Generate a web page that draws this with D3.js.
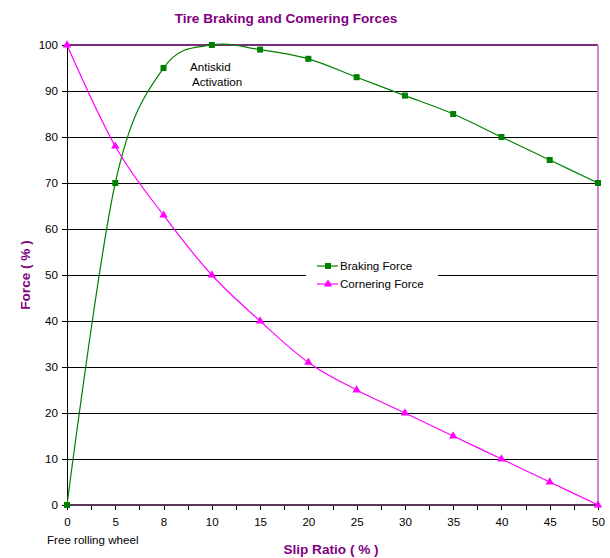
<!DOCTYPE html>
<html>
<head>
<meta charset="utf-8">
<script src="https://cdn.jsdelivr.net/npm/d3@7"></script>
<style>
  body { margin: 0; background: #fff; }
  text { font-family: "Liberation Sans", Arial, sans-serif; }
</style>
</head>
<body>
<svg id="chart" width="610" height="558"></svg>
<script>
const categories = ["0", "5", "8", "10", "15", "20", "25", "30", "35", "40", "45", "50"];
const brakingForce = [0, 70, 95, 100, 99, 97, 93, 89, 85, 80, 75, 70];
const corneringForce = [100, 78, 63, 50, 40, 31, 25, 20, 15, 10, 5, 0];
const yTicks = [0, 10, 20, 30, 40, 50, 60, 70, 80, 90, 100];

(function () {
const svg = d3.select("#chart");
const pL = 67, pR = 598, pT = 45, pB = 505;
const FS = 11.6;

const x = d3.scalePoint().domain(categories).range([pL, pR]);
const y = d3.scaleLinear().domain([0, 100]).range([pB, pT]);

// gridlines
svg.append("g").attr("shape-rendering", "crispEdges")
  .selectAll("line").data(yTicks.filter(d => d > 0 && d < 100)).join("line")
  .attr("x1", pL).attr("x2", pR)
  .attr("y1", d => y(d) + 0.5).attr("y2", d => y(d) + 0.5)
  .attr("stroke", "#000").attr("stroke-width", 1);

// y axis
const yAxis = d3.axisLeft(y).tickValues(yTicks).tickSize(5).tickPadding(4);
const ya = svg.append("g").attr("transform", `translate(${pL},0)`).attr("shape-rendering", "crispEdges").call(yAxis);
ya.select(".domain").attr("stroke", "#000");
ya.selectAll(".tick line").attr("stroke", "#000");
ya.selectAll(".tick text").attr("font-size", FS).attr("fill", "#000")
  .attr("font-family", "Liberation Sans, Arial, sans-serif");

// x-axis ticks at half intervals
const step = x.step();
const halfTicks = d3.range(0, categories.length * 2 - 1).map(i => pL + i * step / 2);
svg.append("g").attr("shape-rendering", "crispEdges")
  .selectAll("line").data(halfTicks).join("line")
  .attr("x1", d => Math.round(d) + 0.5).attr("x2", d => Math.round(d) + 0.5)
  .attr("y1", pB).attr("y2", pB + 5)
  .attr("stroke", "#000");

const xAxis = d3.axisBottom(x).tickSize(0).tickPadding(13);
const xa = svg.append("g").attr("transform", `translate(0,${pB})`).call(xAxis);
xa.select(".domain").remove();
xa.selectAll(".tick text").attr("font-size", FS).attr("fill", "#000")
  .attr("font-family", "Liberation Sans, Arial, sans-serif");

// borders
const bd = svg.append("g").attr("shape-rendering", "crispEdges");
bd.append("line").attr("x1", pL).attr("x2", pR).attr("y1", pT).attr("y2", pT)
  .attr("stroke", "#7a2a7a").attr("stroke-width", 2);
bd.append("line").attr("x1", pR).attr("x2", pR).attr("y1", pT).attr("y2", pB)
  .attr("stroke", "#cc88cc").attr("stroke-width", 2);
bd.append("line").attr("x1", pL).attr("x2", pR + 1).attr("y1", pB).attr("y2", pB)
  .attr("stroke", "#5a3a5a").attr("stroke-width", 2);
bd.append("line").attr("x1", pL + 0.5).attr("x2", pL + 0.5).attr("y1", pT).attr("y2", pB)
  .attr("stroke", "#000").attr("stroke-width", 1);

// lines
const line = d3.line().x((d, i) => x(categories[i])).y(d => y(d)).curve(d3.curveCatmullRom.alpha(0));
svg.append("path").datum(brakingForce).attr("d", line)
  .attr("fill", "none").attr("stroke", "#008000").attr("stroke-width", 1.2);
svg.append("path").datum(corneringForce).attr("d", line)
  .attr("fill", "none").attr("stroke", "#ff00ff").attr("stroke-width", 1.2);

// markers
svg.append("g").selectAll("rect").data(brakingForce).join("rect")
  .attr("x", (d, i) => x(categories[i]) - 3).attr("y", d => y(d) - 3)
  .attr("width", 6).attr("height", 6).attr("fill", "#008000");
const tri = d3.symbol().type(d3.symbolTriangle).size(30);
svg.append("g").selectAll("path").data(corneringForce).join("path")
  .attr("d", tri)
  .attr("transform", (d, i) => `translate(${x(categories[i])},${y(d)})`)
  .attr("fill", "#ff00ff");

// legend
const lg = svg.append("g");
lg.append("rect").attr("x", 306).attr("y", 256).attr("width", 132).attr("height", 40).attr("fill", "#fff");
const legendItems = [
  { name: "Braking Force", color: "#008000", shape: "square", yy: 266 },
  { name: "Cornering Force", color: "#ff00ff", shape: "tri", yy: 284 }
];
legendItems.forEach(it => {
  lg.append("line").attr("x1", 317).attr("x2", 338).attr("y1", it.yy).attr("y2", it.yy)
    .attr("stroke", it.color).attr("stroke-width", 1.2);
  if (it.shape === "square") {
    lg.append("rect").attr("x", 325).attr("y", it.yy - 3).attr("width", 6).attr("height", 6).attr("fill", it.color);
  } else {
    lg.append("path").attr("d", tri).attr("transform", `translate(328,${it.yy})`).attr("fill", it.color);
  }
  lg.append("text").attr("x", 340).attr("y", it.yy + 4).attr("font-size", FS).attr("fill", "#000").text(it.name);
});

// annotation
svg.append("text").attr("x", 190).attr("y", 71).attr("font-size", FS).attr("fill", "#000").text("Antiskid");
svg.append("text").attr("x", 192).attr("y", 86).attr("font-size", FS).attr("fill", "#000").text("Activation");

// Free rolling wheel
svg.append("text").attr("x", 47).attr("y", 544).attr("font-size", FS).attr("fill", "#000").text("Free rolling wheel");

// titles
svg.append("text").attr("x", 286).attr("y", 23).attr("text-anchor", "middle")
  .attr("font-size", 13.6).attr("font-weight", "bold").attr("fill", "#800080")
  .text("Tire Braking and Comering Forces");
svg.append("text").attr("x", 331).attr("y", 554).attr("text-anchor", "middle")
  .attr("font-size", 13.6).attr("font-weight", "bold").attr("fill", "#800080")
  .text("Slip Ratio ( % )");
svg.append("text").attr("transform", "translate(30,275) rotate(-90)").attr("text-anchor", "middle")
  .attr("font-size", 13.6).attr("font-weight", "bold").attr("fill", "#800080")
  .text("Force ( % )");
})();
</script>
</body>
</html>
